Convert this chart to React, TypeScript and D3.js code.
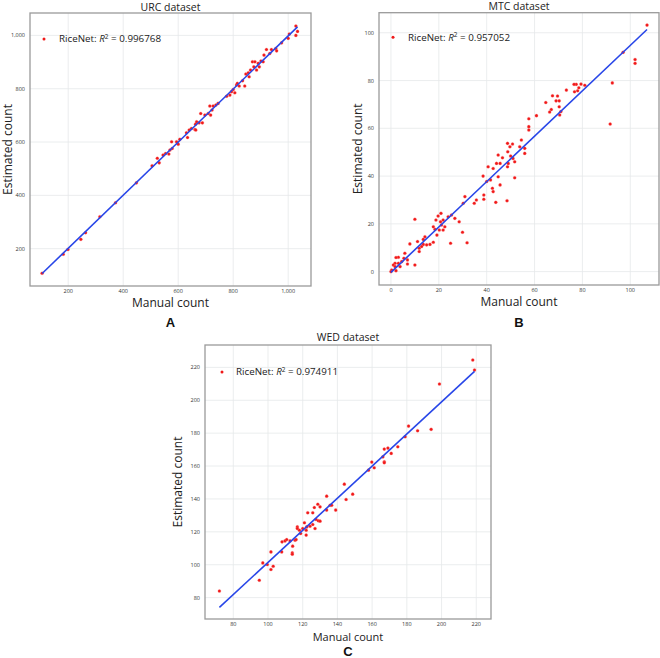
import React from "react";
import * as d3 from "d3";

// ---------- DATA ----------
const urcManual = [105, 182, 199, 246, 263, 315, 372, 448, 505, 524, 531, 545, 554, 566, 570, 576, 578, 594, 600, 606, 630, 634, 640, 648, 661, 663, 667, 664, 676, 682, 688, 697, 709, 715, 718, 723, 727, 737, 745, 776, 788, 794, 800, 806, 812, 815, 822, 834, 842, 846, 855, 858, 863, 870, 875, 879, 885, 891, 895, 901, 909, 912, 921, 933, 939, 955, 958, 976, 1000, 1004, 1028, 1034, 1028];
const urcEstimated = [108, 179, 197, 235, 260, 320, 372, 447, 511, 539, 522, 551, 557, 555, 570, 601, 576, 601, 592, 610, 635, 617, 645, 651, 647, 667, 676, 645, 672, 707, 672, 701, 707, 735, 701, 720, 735, 739, 745, 772, 776, 789, 797, 785, 814, 820, 810, 830, 810, 855, 860, 845, 870, 901, 882, 901, 870, 895, 882, 904, 901, 926, 947, 932, 947, 951, 942, 972, 989, 1005, 1035, 1015, 1000];

const mtcManual = [107, 97, 102, 102, 92.5, 91.6, 81, 79.4, 77.4, 76.5, 78.5, 78, 76.7, 73.3, 67.5, 69.6, 70.3, 69, 67, 66.3, 70.3, 71, 70.5, 64.7, 60.8, 57.6, 57.6, 57.6, 54.5, 55.9, 55.9, 53.8, 50.8, 48.7, 49.7, 50, 51, 51.7, 51.7, 48.8, 48.7, 49, 44.8, 46.6, 45.6, 44.1, 42.7, 40.6, 41.6, 40, 38.5, 42.4, 42.7, 38.8, 38.8, 43.8, 48.5, 44.8, 45.6, 35.7, 34.8, 30.9, 30.2, 29.9, 31.8, 28.5, 26.7, 25.3, 23.9, 24.9, 22.5, 21.8, 20.9, 20.7, 19.7, 18.8, 18.4, 17.7, 19.2, 17.7, 20.2, 21.1, 21.8, 10, 7.9, 10, 11.1, 11.8, 11.8, 13.5, 14.2, 13.5, 14.9, 16.3, 12.8, 5.8, 5.4, 6.9, 6.9, 4.5, 3.1, 2.1, 3.1, 1.7, 1, 2.1, 0.3, 0, 1.7, 3.8];
const mtcEstimated = [103.2, 91.8, 88.8, 87.2, 79, 61.8, 78, 78.5, 78.4, 78.4, 77, 75.7, 75.3, 76, 73.6, 73.5, 71.5, 71.5, 67.9, 66.8, 69, 67, 65.6, 70.8, 65.3, 64, 60.7, 59.3, 55.1, 51.6, 49.5, 52.3, 53.4, 53.7, 52.3, 48.4, 47.4, 46, 39.3, 50.2, 43.9, 45.3, 48.8, 47.7, 45.3, 45.3, 43.2, 43.9, 38.4, 37.7, 40, 34.9, 33.5, 32.1, 30.3, 29, 29.7, 39.7, 36.3, 30, 28.6, 31.4, 28.6, 16.5, 12.1, 20.9, 22.3, 23.7, 23, 11.9, 18.8, 17.4, 24.4, 20.9, 23.3, 21.6, 17.7, 18.8, 15.3, 12.3, 17.4, 19.5, 21.6, 21.9, 11.6, 2.8, 12.6, 9.8, 8.4, 11.4, 14.6, 13.5, 11.2, 11.4, 10.5, 7.7, 5.6, 4.9, 3.2, 4.2, 6, 5.9, 3.5, 3.5, 2.8, 0.4, 0.7, 0, 2.1, 2.1];

const wedManual = [72, 95, 97, 99.6, 101.7, 103, 101.7, 107.9, 108.1, 109.8, 110.8, 112.7, 114.2, 114, 114, 115.6, 116.2, 116.9, 116.9, 118.1, 118.8, 120, 121, 122, 122, 122.3, 122.9, 124.2, 125.8, 125.8, 126.7, 127.1, 127.7, 128.7, 129, 130, 130, 133.8, 133.8, 135.8, 136.7, 139, 144, 145, 148.8, 157.9, 159.8, 161.2, 166.2, 167, 167, 167, 169.1, 171, 174.8, 179, 181, 186.2, 194, 198.8, 218, 219];
const wedEstimated = [84, 90.6, 101.1, 100.1, 97.1, 99.1, 107.8, 107.8, 113.9, 114.5, 115.3, 114.5, 111.3, 107.2, 106.4, 114.9, 115.3, 123, 122, 121, 119, 122, 125.5, 121, 118, 123, 131.6, 123.4, 131.6, 124.5, 134.8, 122, 127.5, 136.8, 126.7, 135.2, 126.5, 141.7, 133.2, 136.2, 136.2, 133.2, 149, 139.7, 142.9, 157.5, 162.4, 159, 165.6, 170.3, 162.6, 162, 170.9, 167.7, 171.7, 177.8, 184.3, 181.5, 182.3, 209.9, 224.5, 218.4];

const urcTicks = [200, 400, 600, 800, 1000];
const mtcTicks = [0, 20, 40, 60, 80, 100];
const wedTicks = [80, 100, 120, 140, 160, 180, 200, 220];

const titles = ["URC dataset", "MTC dataset", "WED dataset"];
const r2Labels = ["0.996768", "0.957052", "0.974911"];
const panelLetters = ["A", "B", "C"];

// ---------- HELPERS ----------
function linFit(xs: number[], ys: number[]) {
  const mx = d3.mean(xs)!;
  const my = d3.mean(ys)!;
  let sxy = 0, sxx = 0;
  xs.forEach((x, i) => {
    sxy += (x - mx) * (ys[i] - my);
    sxx += (x - mx) * (x - mx);
  });
  const b = sxy / sxx;
  return { b, a: my - b * mx };
}

type PanelProps = {
  box: { x0: number; x1: number; y0: number; y1: number };
  xDomain: [number, number];
  yDomain: [number, number];
  xs: number[];
  ys: number[];
  xTicks: number[];
  yTicks: number[];
  fmt: (v: number) => string;
  title: string;
  titleY: number;
  r2: string;
  legend: { dx: number; dy: number; tx: number };
  letter: string;
  letterY: number;
  xLabelY: number;
  xLabelSize: number;
  yLabelX: number;
};

const FONT = "'Open Sans', 'DejaVu Sans', sans-serif";

function Panel(p: PanelProps) {
  const { box } = p;
  const x = d3.scaleLinear().domain(p.xDomain).range([box.x0, box.x1]);
  const y = d3.scaleLinear().domain(p.yDomain).range([box.y1, box.y0]);
  const fit = linFit(p.xs, p.ys);
  const [xmin, xmax] = d3.extent(p.xs) as [number, number];
  const line = d3.line<number>().x((v) => x(v)).y((v) => y(fit.a + fit.b * v));
  const cx = (box.x0 + box.x1) / 2;
  const cy = (box.y0 + box.y1) / 2;
  return (
    <g>
      <rect x={box.x0} y={box.y0} width={box.x1 - box.x0} height={box.y1 - box.y0} fill="#fff" />
      {p.xTicks.map((t) => (
        <line key={"gx" + t} x1={x(t)} x2={x(t)} y1={box.y0} y2={box.y1} stroke="#e6e9ea" strokeWidth={0.8} />
      ))}
      {p.yTicks.map((t) => (
        <line key={"gy" + t} x1={box.x0} x2={box.x1} y1={y(t)} y2={y(t)} stroke="#e6e9ea" strokeWidth={0.8} />
      ))}
      {p.xs.map((v, i) => (
        <circle key={"p" + i} cx={x(v)} cy={y(p.ys[i])} r={1.55} fill="#f01818" stroke="#ff8080" strokeWidth={0.3} />
      ))}
      <path d={line([xmin, xmax]) || ""} stroke="#2846e8" strokeWidth={1.6} fill="none" />
      <rect x={box.x0} y={box.y0} width={box.x1 - box.x0} height={box.y1 - box.y0} fill="none" stroke="#9a9a9a" strokeWidth={1.3} />
      {p.xTicks.map((t) => (
        <text key={"tx" + t} x={x(t)} y={box.y1 + 7} fontSize={5.5} fill="#333" textAnchor="middle" fontFamily={FONT}>
          {p.fmt(t)}
        </text>
      ))}
      {p.yTicks.map((t) => (
        <text key={"ty" + t} x={box.x0 - 5} y={y(t) + 2} fontSize={5.5} fill="#333" textAnchor="end" fontFamily={FONT}>
          {p.fmt(t)}
        </text>
      ))}
      <text x={cx} y={p.titleY} fontSize={10.5} textAnchor="middle" fill="#222" fontFamily={FONT}>
        {p.title}
      </text>
      <text x={cx} y={p.xLabelY} fontSize={p.xLabelSize} textAnchor="middle" fill="#222" fontFamily={FONT}>
        Manual count
      </text>
      <text
        transform={`translate(${p.yLabelX},${cy}) rotate(-90)`}
        fontSize={12}
        textAnchor="middle"
        fill="#222"
        fontFamily={FONT}
      >
        Estimated count
      </text>
      <circle cx={box.x0 + p.legend.dx} cy={box.y0 + p.legend.dy} r={1.5} fill="#f01818" />
      <text x={box.x0 + p.legend.tx} y={box.y0 + p.legend.dy + 3.3} fontSize={9.8} fill="#222" fontFamily={FONT}>
        RiceNet: <tspan fontStyle="italic">R</tspan>
        <tspan fontSize={6.5} dy={-3.8}>2</tspan>
        <tspan dy={3.8}> = {p.r2}</tspan>
      </text>
      <text x={cx} y={p.letterY} fontSize={13} fontWeight="bold" textAnchor="middle" fill="#111" fontFamily="'Liberation Sans', Arial, sans-serif">
        {p.letter}
      </text>
    </g>
  );
}

export default function App() {
  const fmtA = d3.format(",");
  const fmtN = d3.format("d");
  return (
    <svg width={660} height={658} style={{ position: "absolute", left: 0, top: 0, display: "block", background: "#fff" }}>
      <rect width={660} height={658} fill="#fff" />
      <Panel
        box={{ x0: 30, x1: 311, y0: 13, y1: 286 }}
        xDomain={[61, 1083]}
        yDomain={[60, 1084]}
        xs={urcManual}
        ys={urcEstimated}
        xTicks={urcTicks}
        yTicks={urcTicks}
        fmt={fmtA}
        title={titles[0]}
        titleY={10.5}
        r2={r2Labels[0]}
        legend={{ dx: 14, dy: 26, tx: 29 }}
        letter={panelLetters[0]}
        letterY={327}
        xLabelY={307}
        xLabelSize={12}
        yLabelX={12}
      />
      <Panel
        box={{ x0: 379, x1: 659, y0: 12.7, y1: 285 }}
        xDomain={[-5, 112]}
        yDomain={[-5.6, 108.4]}
        xs={mtcManual}
        ys={mtcEstimated}
        xTicks={mtcTicks}
        yTicks={mtcTicks}
        fmt={fmtN}
        title={titles[1]}
        titleY={10}
        r2={r2Labels[1]}
        legend={{ dx: 14, dy: 24.5, tx: 29 }}
        letter={panelLetters[1]}
        letterY={327}
        xLabelY={306}
        xLabelSize={12}
        yLabelX={362}
      />
      <Panel
        box={{ x0: 205, x1: 491, y0: 345, y1: 619 }}
        xDomain={[63.7, 228.5]}
        yDomain={[67, 233.6]}
        xs={wedManual}
        ys={wedEstimated}
        xTicks={wedTicks}
        yTicks={wedTicks}
        fmt={fmtN}
        title={titles[2]}
        titleY={341}
        r2={r2Labels[2]}
        legend={{ dx: 17, dy: 27, tx: 31 }}
        letter={panelLetters[2]}
        letterY={655.5}
        xLabelY={640.5}
        xLabelSize={11}
        yLabelX={182}
      />
    </svg>
  );
}
